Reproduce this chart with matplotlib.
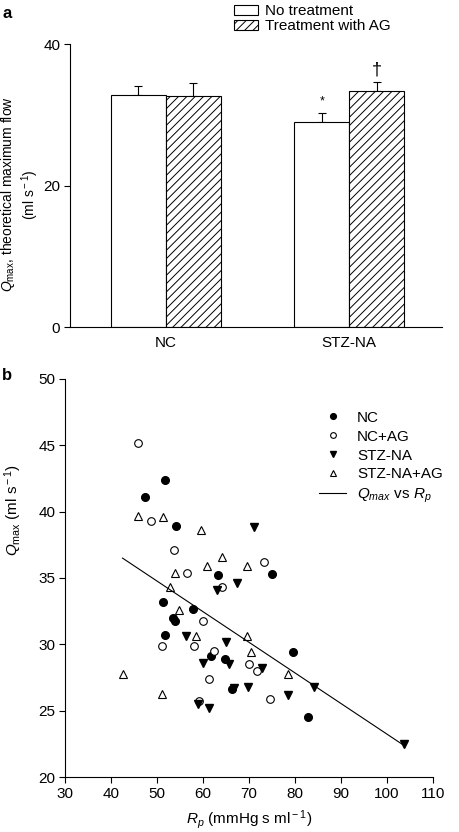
import numpy as np
import matplotlib
matplotlib.use("Agg")
import matplotlib.pyplot as plt
from matplotlib.patches import Patch

plt.rcParams['font.family'] = ['Liberation Sans', 'DejaVu Sans']
plt.rcParams['hatch.linewidth'] = 0.7
plt.rcParams['mathtext.fontset'] = 'custom'
plt.rcParams['mathtext.rm'] = 'Liberation Sans'
plt.rcParams['mathtext.it'] = 'Liberation Sans:italic'

# panel a
groups = ['NC', 'STZ-NA']
no_treat = [32.8, 29.0]
no_treat_err = [1.3, 1.2]
with_ag = [32.6, 33.4]
with_ag_err = [1.9, 1.2]

# panel b
nc_x = [51.8, 47.4, 54.2, 74.9, 63.3, 51.3, 57.8, 53.4, 53.9, 51.8, 61.8, 64.7, 66.3, 79.5, 82.8]
nc_y = [42.4, 41.1, 38.9, 35.3, 35.2, 33.2, 32.7, 32.0, 31.75, 30.7, 29.1, 28.9, 26.6, 29.4, 24.5]
ncag_x = [45.9, 48.7, 53.7, 73.2, 56.5, 64.2, 59.9, 51.0, 58.0, 62.3, 69.9, 71.8, 61.3, 59.2, 74.6]
ncag_y = [45.2, 39.3, 37.1, 36.2, 35.4, 34.3, 31.75, 29.9, 29.9, 29.5, 28.5, 28.0, 27.35, 25.75, 25.85]
stz_x = [71.1, 63.0, 67.5, 56.2, 64.9, 59.9, 65.6, 72.8, 66.8, 69.8, 59.0, 61.4, 84.2, 78.5, 103.6]
stz_y = [38.85, 34.1, 34.6, 30.6, 30.15, 28.6, 28.5, 28.2, 26.7, 26.8, 25.5, 25.2, 26.75, 26.2, 22.5]
stzag_x = [45.8, 51.3, 59.6, 64.1, 60.9, 69.5, 53.9, 52.8, 54.8, 58.4, 69.6, 70.4, 42.6, 51.0, 78.5]
stzag_y = [39.7, 39.6, 38.6, 36.6, 35.9, 35.9, 35.4, 34.3, 32.6, 30.6, 30.6, 29.4, 27.75, 26.25, 27.8]
fit_x = [42.5, 103.6]
fit_y = [36.5, 22.4]

fs = 11
fig = plt.figure(figsize=(4.6, 8.32), dpi=100)

ax1 = fig.add_axes([0.152, 0.6066, 0.808, 0.3404])
w = 1.0
centers = np.array([1.74, 5.08])
ax1.bar(centers - w/2, no_treat, w, color='white', edgecolor='black', linewidth=0.8, zorder=2)
ax1.bar(centers + w/2, with_ag, w, color='white', edgecolor='black', linewidth=0.8, hatch='////', zorder=2)
ax1.errorbar(centers - w/2, no_treat, yerr=[np.zeros(2), no_treat_err], fmt='none', ecolor='black',
             elinewidth=0.8, capsize=3, capthick=0.8, zorder=1)
ax1.errorbar(centers + w/2, with_ag, yerr=[np.zeros(2), with_ag_err], fmt='none', ecolor='black',
             elinewidth=0.8, capsize=3, capthick=0.8, zorder=1)
ax1.text(centers[1] - w/2, no_treat[1] + no_treat_err[1] + 0.8, '*', ha='center', va='bottom', fontsize=9)
ax1.text(centers[1] + w/2, with_ag[1] + with_ag_err[1] + 0.6, '\u2020', ha='center', va='bottom', fontsize=13)
ax1.set_xlim(0, 6.76)
ax1.set_ylim(0, 40)
ax1.set_yticks([0, 20, 40])
ax1.set_xticks(centers)
ax1.set_xticklabels(groups)
ax1.tick_params(axis='x', length=0, labelsize=fs, pad=6)
ax1.tick_params(axis='y', direction='out', length=4, width=0.8, labelsize=fs, pad=3)
for s in ['top', 'right']:
    ax1.spines[s].set_visible(False)
ax1.spines['left'].set_linewidth(0.8)
ax1.spines['bottom'].set_linewidth(0.8)
ax1.set_ylabel('$Q_{\\rm max}$, theoretical maximum flow\n(ml s$^{\\rm -1}$)', fontsize=10,
               linespacing=1.15)
ax1.yaxis.set_label_coords(-0.079, 0.47)
h1 = [Patch(facecolor='white', edgecolor='black', linewidth=0.8),
      Patch(facecolor='white', edgecolor='black', linewidth=0.8, hatch='////')]
ax1.legend(h1, ['No treatment', 'Treatment with AG'], loc='upper left', bbox_to_anchor=(0.441, 1.14),
           frameon=False, fontsize=fs, handlelength=1.6, handleheight=0.6, handletextpad=0.45,
           labelspacing=0.05, borderaxespad=0, borderpad=0)
fig.text(0.005, 0.993, 'a', fontsize=12, fontweight='bold', va='top')

ax2 = fig.add_axes([0.1413, 0.0661, 0.8, 0.4784])
ax2.plot(nc_x, nc_y, 'o', color='black', ms=5.5, linestyle='none', label='NC')
ax2.plot(ncag_x, ncag_y, 'o', mfc='white', mec='black', mew=0.8, ms=5.5, linestyle='none', label='NC+AG')
ax2.plot(stz_x, stz_y, 'v', color='black', ms=6, linestyle='none', label='STZ-NA')
ax2.plot(stzag_x, stzag_y, '^', mfc='white', mec='black', mew=0.8, ms=6, linestyle='none', label='STZ-NA+AG')
ax2.plot(fit_x, fit_y, '-', color='black', linewidth=0.8, label='$Q_{max}$ vs $R_p$')
ax2.set_xlim(30, 110)
ax2.set_ylim(20, 50)
ax2.set_xticks(np.arange(30, 111, 10))
ax2.set_yticks(np.arange(20, 51, 5))
ax2.tick_params(direction='out', length=4, width=0.8, labelsize=fs, pad=3)
for s in ['top', 'right']:
    ax2.spines[s].set_visible(False)
ax2.spines['left'].set_linewidth(0.8)
ax2.spines['bottom'].set_linewidth(0.8)
ax2.set_ylabel('$Q_{\\rm max}$ (ml s$^{\\rm -1}$)', fontsize=fs)
ax2.yaxis.set_label_coords(-0.112, 0.67)
ax2.set_xlabel('$R_p$ (mmHg s ml$^{\\rm -1}$)', fontsize=fs, labelpad=5)
ax2.legend(loc='upper left', bbox_to_anchor=(0.69, 0.92), frameon=False, fontsize=fs,
           handlelength=1.8, handletextpad=0.7, labelspacing=0.32, markerscale=0.75,
           borderaxespad=0, borderpad=0)
fig.text(0.005, 0.549, 'b', fontsize=12, fontweight='bold', va='center')

fig.savefig('out.png', dpi=100)
